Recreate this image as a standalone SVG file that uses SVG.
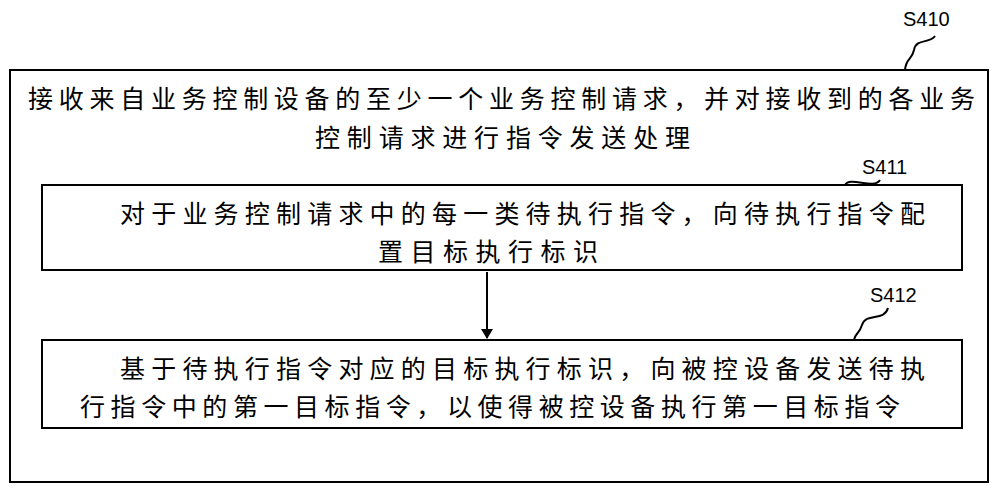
<svg xmlns="http://www.w3.org/2000/svg" width="1000" height="491" viewBox="0 0 1000 491">
<defs>
<style>
.b{fill:none;stroke:#000;stroke-width:2}
.t{font-family:"Noto Sans CJK SC","Noto Sans",sans-serif;font-size:25px;fill:#000}
.l{font-family:"Liberation Sans",Arial,sans-serif;font-size:20px;fill:#000}
</style>
<marker id="a" markerWidth="10" markerHeight="12" refX="9" refY="6" orient="auto" markerUnits="userSpaceOnUse"><path d="M0,0 L10,6 L0,12 Z" fill="#000"/></marker>
</defs>
<g id="S410">
<rect class="b" x="10" y="70" width="978" height="412"/>
<text class="l" x="903" y="26">S410</text>
<text class="t" x="28" y="108" textLength="947" lengthAdjust="spacing">接收来自业务控制设备的至少一个业务控制请求，并对接收到的各业务</text>
<text class="t" x="315" y="147" textLength="375" lengthAdjust="spacing">控制请求进行指令发送处理</text>
</g>
<g id="S411">
<rect class="b" x="42" y="185" width="920" height="85"/>
<text class="l" x="862" y="174">S411</text>
<text class="t" x="120" y="223" textLength="805" lengthAdjust="spacing">对于业务控制请求中的每一类待执行指令，向待执行指令配</text>
<text class="t" x="378" y="261" textLength="220" lengthAdjust="spacing">置目标执行标识</text>
</g>
<g id="S412">
<rect class="b" x="42" y="340" width="920" height="88"/>
<text class="l" x="870" y="302">S412</text>
<text class="t" x="120" y="378" textLength="805" lengthAdjust="spacing">基于待执行指令对应的目标执行标识，向被控设备发送待执</text>
<text class="t" x="80" y="416" textLength="820" lengthAdjust="spacing">行指令中的第一目标指令，以使得被控设备执行第一目标指令</text>
</g>
<g id="connectors">
<path class="b" d="M935,36 C930,44 916,38 914,50 C912,60 906,58 905,70"/>
<path class="b" d="M880,180 C874,190 850,176 845,185"/>
<path class="b" d="M888,308 C884,322 866,312 862,325 C859,335 855,333 854,340"/>
<line class="b" x1="487" y1="272" x2="487" y2="338" marker-end="url(#a)"/>
</g>
</svg>
